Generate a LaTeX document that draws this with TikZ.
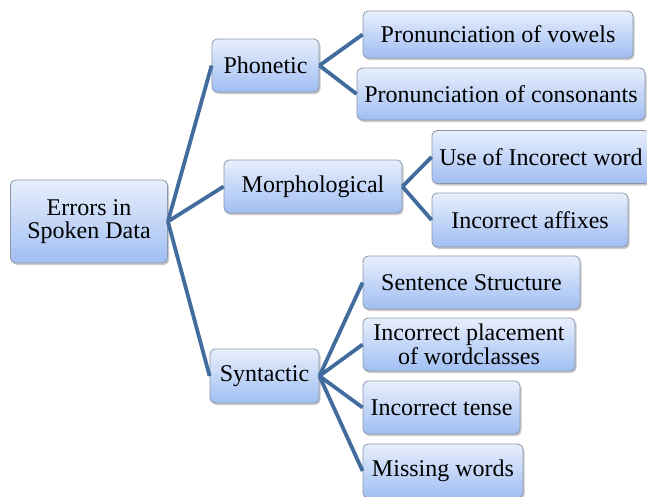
\documentclass[tikz,border=0pt]{standalone}
\usepackage{fontspec}
\setmainfont{Liberation Serif}
\usetikzlibrary{shadows}
\definecolor{linkblue}{RGB}{66,108,158}
\definecolor{boxtop}{RGB}{232,239,252}
\definecolor{boxbot}{RGB}{160,190,243}
\definecolor{boxline}{RGB}{140,152,170}
\tikzset{
  box/.style={draw=boxline, line width=0.8pt, rounded corners=5pt,
    top color=boxtop, bottom color=boxbot, inner sep=0pt, align=center,
    font=\fontsize{24}{23.5}\selectfont,
    drop shadow={shadow xshift=1.5pt, shadow yshift=-2pt, opacity=0.35, fill=black!60}},
  link/.style={draw=linkblue, line width=3.8pt}
}
\begin{document}
\begin{tikzpicture}[x=1pt,y=-1pt]
\useasboundingbox (0,0) rectangle (647,496);
\node[box, minimum width=157pt, minimum height=83pt] (root) at (89,221.5) {Errors in\\Spoken Data};
\node[box, minimum width=107pt, minimum height=53pt] (phon) at (265.5,65.5) {Phonetic};
\node[box, minimum width=270pt, minimum height=47pt] (vow) at (498,34.5) {Pronunciation of vowels};
\node[box, minimum width=288pt, minimum height=52pt] (cons) at (501,94) {Pronunciation of consonants};
\node[box, minimum width=218pt, minimum height=53pt] (use) at (541,157) {Use of Incorect word};
\node[box, minimum width=178pt, minimum height=53pt] (morph) at (313,186.5) {Morphological};
\node[box, minimum width=196pt, minimum height=54pt] (aff) at (530,220) {Incorrect affixes};
\node[box, minimum width=109pt, minimum height=54pt] (syn) at (264.5,376) {Syntactic};
\node[box, minimum width=217pt, minimum height=53pt] (sent) at (471.5,282.5) {Sentence Structure};
\node[box, minimum width=212pt, minimum height=53pt] (place) at (469,344.5) {Incorrect placement\\of wordclasses};
\node[box, minimum width=157pt, minimum height=53pt] (tense) at (441.5,407.5) {Incorrect tense};
\node[box, minimum width=160pt, minimum height=54pt] (miss) at (443,471) {Missing words};
\draw[link] (root.east) -- (phon.west);
\draw[link] (root.east) -- (morph.west);
\draw[link] (root.east) -- (syn.west);
\draw[link] (phon.east) -- (vow.west);
\draw[link] (phon.east) -- (cons.west);
\draw[link] (morph.east) -- (use.west);
\draw[link] (morph.east) -- (aff.west);
\draw[link] (syn.east) -- (sent.west);
\draw[link] (syn.east) -- (place.west);
\draw[link] (syn.east) -- (tense.west);
\draw[link] (syn.east) -- (miss.west);
\end{tikzpicture}
\end{document}
